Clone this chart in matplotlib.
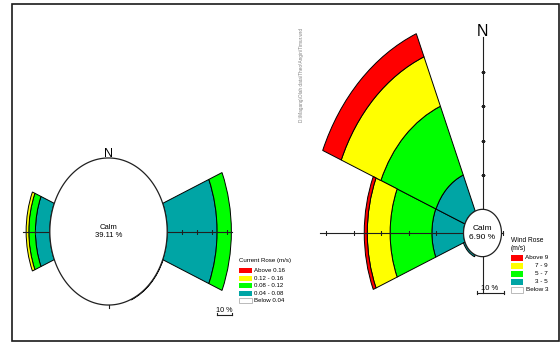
import numpy as np
import matplotlib
matplotlib.use('Agg')
import matplotlib.pyplot as plt
from matplotlib.patches import Rectangle
from matplotlib.lines import Line2D

plt.rcParams['font.family'] = ['Liberation Sans', 'DejaVu Sans']

# ---------------- data ----------------
current_dirs = [90, 270, 135]
current_calm = 39.11
current_teal = [33.3, 9.6, 0.3]      # 0.04 - 0.08
current_green = [9.5, 4.4, 0.0]      # 0.08 - 0.12
current_yellow = [0.0, 1.8, 0.0]     # 0.12 - 0.16
current_red = [0.0, 0.0, 0.0]        # above 0.16
current_labels = ['Above 0.16', '0.12 - 0.16', '0.08 - 0.12', '0.04 - 0.08', 'Below 0.04']

wind_dirs = [270, 315, 225]
wind_calm = 6.90
wind_teal = [11.5, 11.4, 0.6]        # 3 - 5
wind_green = [15.2, 21.7, 0.0]       # 5 - 7
wind_yellow = [8.3, 15.6, 0.0]       # 7 - 9
wind_red = [1.1, 7.3, 0.0]           # above 9
wind_labels = ['Above 9', '7 - 9', '5 - 7', '3 - 5', 'Below 3']

# ---------------- style ----------------
RED, YELLOW, GREEN, TEAL = '#FF0000', '#FFFF00', '#00FF00', '#00A5A5'
bin_colors = [TEAL, GREEN, YELLOW, RED]
legend_colors = [RED, YELLOW, GREEN, TEAL, 'white']
W, H = 560, 342
fig = plt.figure(figsize=(W / 100, H / 100), dpi=100)
fig.patch.set_facecolor('white')


def fx(x):
    return x / W


def fy(y):
    return 1 - y / H


def rose_axes(cx, cy, sx, sy, R):
    ax = fig.add_axes([(cx - R * sx) / W, (H - cy - R * sy) / H,
                       2 * R * sx / W, 2 * R * sy / H], projection='polar')
    ax.set_aspect('auto')
    ax.set_theta_zero_location('N')
    ax.set_theta_direction(-1)
    ax.set_ylim(0, R)
    ax.set_xticks([])
    ax.set_yticks([])
    ax.grid(False)
    ax.spines['polar'].set_visible(False)
    ax.set_facecolor('none')
    return ax


def draw_rose(ax, dirs, calm, series):
    theta = np.deg2rad(np.array(dirs, dtype=float))
    bottom = np.full(len(dirs), calm, dtype=float)
    for vals, col in zip(series, bin_colors):
        vals = np.array(vals, dtype=float)
        m = vals > 0
        if m.any():
            ax.bar(theta[m], vals[m], width=np.deg2rad(45), bottom=bottom[m],
                   color=col, edgecolor='black', linewidth=0.7, zorder=2)
        bottom += vals
    th = np.linspace(0, 2 * np.pi, 361)
    ax.fill(th, np.full_like(th, calm), facecolor='white', edgecolor='#202020',
            linewidth=0.9, zorder=4)


def axis_line(ax, deg, r0, r1, ticks, marker):
    t = np.deg2rad(deg)
    ax.plot([t, t], [r0, r1], color='#202020', lw=0.8, zorder=3)
    if len(ticks):
        ax.plot(np.full(len(ticks), t), ticks, ls='none', marker=marker,
                ms=3.4, mew=0.8, color='#202020', zorder=3)


# ---------------- left: current rose ----------------
axL = rose_axes(108.5, 231.5, 1.5, 1.88, 85)
draw_rose(axL, current_dirs, current_calm,
          [current_teal, current_green, current_yellow, current_red])
axis_line(axL, 90, 0, 82.2, [current_calm + 10 * k for k in range(1, 5)], '|')
axis_line(axL, 270, 0, 57.2, [current_calm + 10], '|')
axL.plot([np.pi, np.pi], [current_calm, current_calm + 1.5], color='#202020', lw=0.8, zorder=5)
axL.text(0, 0, 'Calm\n' + f'{current_calm:.2f} %', ha='center', va='center',
         fontsize=5.5, linespacing=1.2, zorder=6)
axL.text(0, 41.3, 'N', ha='center', va='center', fontsize=9, zorder=3)

# ---------------- right: wind rose ----------------
axR = rose_axes(482.5, 233, 2.75, 3.43, 66)
draw_rose(axR, wind_dirs, wind_calm, [wind_teal, wind_green, wind_yellow, wind_red])
rticks = [wind_calm + 10 * k for k in range(1, 6)]
axis_line(axR, 270, 0, 59, rticks, '|')
axis_line(axR, 90, 0, 7.6, [7.3], '|')
axis_line(axR, 0, 0, 57, rticks[:-1], '_')
axis_line(axR, 180, 0, 17.5, [], '_')
axR.text(0, 0, 'Calm\n' + f'{wind_calm:.2f} %', ha='center', va='center',
         fontsize=6, linespacing=1.25, zorder=6)
axR.text(0, 58.8, 'N', ha='center', va='center', fontsize=11.5, zorder=3)

# ---------------- scale bars ----------------
def scale_bar(x0, y, length, tx, fs):
    fig.add_artist(Line2D([fx(x0), fx(x0 + length)], [fy(y), fy(y)],
                          transform=fig.transFigure, color='#202020', lw=0.8))
    for xe in (x0, x0 + length):
        fig.add_artist(Line2D([fx(xe), fx(xe)], [fy(y - 1.8), fy(y + 0.6)],
                              transform=fig.transFigure, color='#202020', lw=0.8))
    fig.text(fx(tx), fy(y - 0.8), '10 %', ha='center', va='bottom', fontsize=fs)


scale_bar(216.5, 314.5, 10 * 1.5, 224, 5.2)
scale_bar(476.5, 293, 10 * 2.75, 490, 5.5)

# ---------------- legends ----------------
def legend(titles, title_y, x_sw, y0, step, sw_w, sw_h, labels, lab_x, ha, fs, tfs):
    for t, ty in zip(titles, title_y):
        fig.text(fx(x_sw), fy(ty), t, ha='left', va='center', fontsize=tfs)
    for i, (lab, col) in enumerate(zip(labels, legend_colors)):
        yc = y0 + i * step
        ec = '#b0b0b0' if col == 'white' else 'none'
        fig.add_artist(Rectangle((fx(x_sw), fy(yc + sw_h / 2)), sw_w / W, sw_h / H,
                                 transform=fig.transFigure, facecolor=col,
                                 edgecolor=ec, lw=0.6))
        fig.text(fx(lab_x), fy(yc), lab, ha=ha, va='center', fontsize=fs)


legend(['Current Rose (m/s)'], [260.5], 239, 270.8, 7.5, 13, 5.2,
       current_labels, 253.5, 'left', 4.4, 4.4)
legend(['Wind Rose', '(m/s)'], [240, 248.5], 511, 257.5, 8, 12, 6,
       wind_labels, 548, 'right', 4.6, 4.8)

# ---------------- path text ----------------
fig.text(fx(301.7), fy(75), r'D:\Magang\Olah data\Theo\Angin\Timur.wrd',
         rotation=90, fontsize=3.4, color='#808080', ha='center', va='center')

# ---------------- frame ----------------
fig.add_artist(Rectangle((fx(12), fy(340.5)), (559 - 12) / W, (340.5 - 3.5) / H,
                         transform=fig.transFigure, fill=False, lw=1.2,
                         edgecolor='#1a1a1a', zorder=10))

fig.savefig('out.png', dpi=100, facecolor='white')
